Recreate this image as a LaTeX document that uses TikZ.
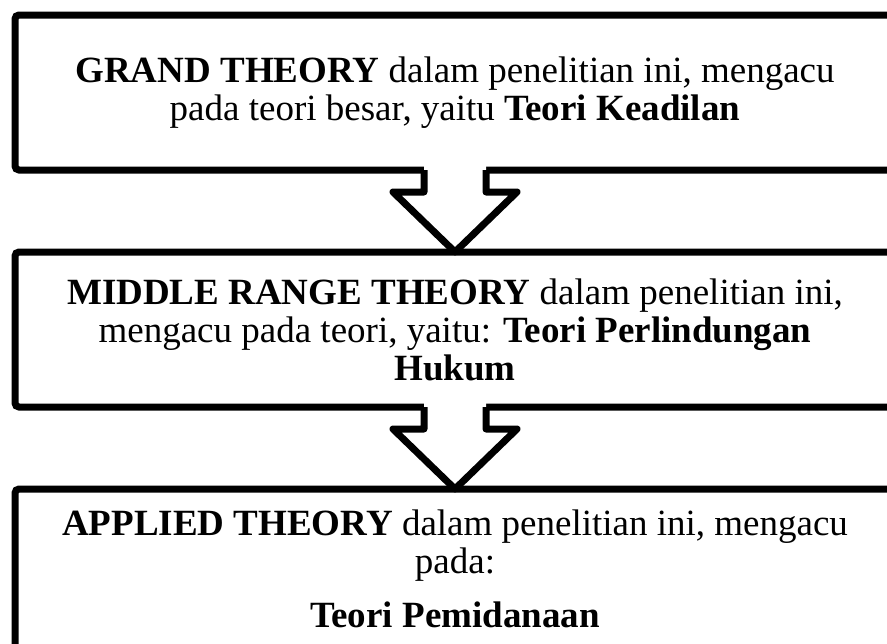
\documentclass[tikz,border=0pt]{standalone}
\usepackage{fontspec}
\setmainfont{Liberation Serif}
\usetikzlibrary{positioning, calc, shadows}
\tikzset{
  theorybox/.style={rectangle, draw=black, fill=white, line width=3.5pt,
    rounded corners=2pt, minimum width=440pt, minimum height=77.5pt,
    outer sep=0pt, inner sep=0pt, align=center,
    font=\fontsize{18.5pt}{19pt}\selectfont,
    drop shadow={opacity=0.3, shadow xshift=0pt, shadow yshift=-1.2pt}},
  frame/.style={draw=black, line width=3.5pt, line join=round}
}

\begin{document}
\begin{tikzpicture}[x=0.5pt, y=-0.5pt]
  \useasboundingbox (0,0) rectangle (887,643);
  \clip (0,0) rectangle (887,643);

  % Boxes
  \node[theorybox] (grand) at (455,92.5)
    {\textbf{GRAND THEORY} dalam penelitian ini, mengacu\\
     pada teori besar, yaitu \textbf{Teori Keadilan}};
  \node[theorybox, below=41pt of grand] (middle)
    {\textbf{MIDDLE RANGE THEORY} dalam penelitian ini,\\
     mengacu pada teori, yaitu: \textbf{Teori Perlindungan}\\
     \textbf{Hukum}};
  \node[theorybox, below=41pt of middle, minimum height=80pt] (applied)
    {\textbf{APPLIED THEORY} dalam penelitian ini, mengacu\\
     pada:\\[8pt]
     \textbf{Teori Pemidanaan}};

  % Hollow arrows
  \foreach \a/\b in {grand/middle, middle/applied} {
    \fill[white] ($(\a.south)+(-31,-6)$) -- ($(\a.south)+(31,-6)$)
      -- ($(\a.south)+(31,22)$) -- ($(\a.south)+(62,22)$) -- (\b.north)
      -- ($(\a.south)+(-62,22)$) -- ($(\a.south)+(-31,22)$) -- cycle;
    \draw[frame] ($(\a.south)+(-31,0)$) -- ($(\a.south)+(-31,22)$)
      -- ($(\a.south)+(-62,22)$) -- (\b.north) -- ($(\a.south)+(62,22)$)
      -- ($(\a.south)+(31,22)$) -- ($(\a.south)+(31,0)$);
  }
\end{tikzpicture}
\end{document}
